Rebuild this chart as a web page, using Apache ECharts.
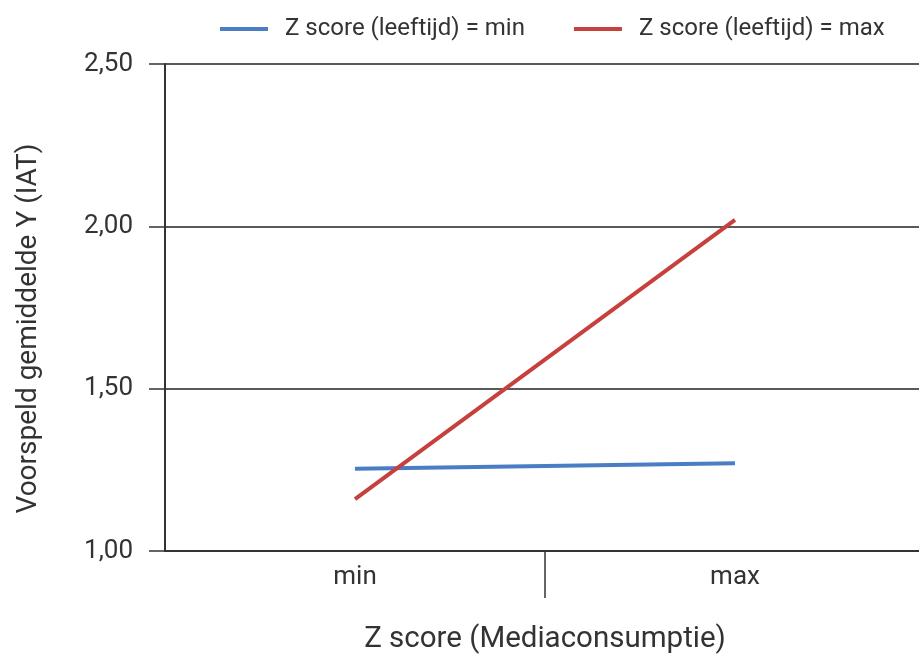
<!DOCTYPE html>
<html><head><meta charset="utf-8">
<script src="https://cdn.jsdelivr.net/npm/echarts@6/dist/echarts.min.js"></script>
<style>html,body{margin:0;padding:0;background:#fff}#c{width:919px;height:657px}</style>
</head><body><div id="c"></div>
<script>
const categories = ['min', 'max'];
const seriesNames = ['Z score (leeftijd) = min', 'Z score (leeftijd) = max'];
const seriesMin = [1.253, 1.27];
const seriesMax = [1.16, 2.02];
const yTicks = [1.0, 1.5, 2.0, 2.5];

const FONT = 'Roboto, sans-serif';
const chart = echarts.init(document.getElementById('c'));
chart.setOption({
  backgroundColor: '#fff',
  animation: false,
  textStyle: { fontFamily: FONT },
  legend: {
    top: 17, left: 220, padding: 0,
    icon: 'rect',
    itemWidth: 48, itemHeight: 4, itemGap: 49,
    textStyle: { fontFamily: FONT, fontSize: 24, color: '#333', padding: [0, 0, 0, 12] },
    data: seriesNames
  },
  grid: { left: 165, right: -6, top: 64, bottom: 106, outerBoundsMode: 'none', containLabel: false },
  xAxis: [{
    type: 'category', data: categories, boundaryGap: true,
    name: 'Z score (Mediaconsumptie)', nameLocation: 'middle', nameGap: 74,
    nameTextStyle: { fontFamily: FONT, fontSize: 29.5, color: '#333' },
    axisLine: { lineStyle: { color: '#333', width: 2 } },
    axisTick: { show: false },
    axisLabel: { fontFamily: FONT, fontSize: 26, color: '#333', margin: 13 }
  }, {
    type: 'value', min: 0, max: categories.length, interval: 1, position: 'bottom',
    axisLine: { show: false },
    axisLabel: { show: false },
    splitLine: { show: false },
    axisTick: { show: true, length: 47, customValues: [1], lineStyle: { color: '#333', width: 1.5 } }
  }],
  yAxis: {
    type: 'value', min: 1.0, max: 2.5, interval: 0.5,
    name: 'Voorspeld gemiddelde Y (IAT)', nameLocation: 'middle', nameGap: 122, nameRotate: 90,
    nameTextStyle: { fontFamily: FONT, fontSize: 28, color: '#333', padding: [0, 42, 0, 0] },
    axisLine: { show: true, lineStyle: { color: '#333', width: 2 } },
    axisTick: { show: true, length: 16, lineStyle: { color: '#333', width: 1.5 } },
    axisLabel: { fontFamily: FONT, fontSize: 26, color: '#333', margin: 32,
      formatter: function (v) { return yTicks.indexOf(v) >= 0 ? v.toFixed(2).replace('.', ',') : ''; } },
    splitLine: { show: true, lineStyle: { color: '#222', width: 1.5 } }
  },
  series: [
    { name: seriesNames[0], type: 'line', data: seriesMin, symbol: 'none', xAxisIndex: 0,
      lineStyle: { color: '#4a7ec4', width: 4 }, itemStyle: { color: '#4a7ec4' } },
    { name: seriesNames[1], type: 'line', data: seriesMax, symbol: 'none', xAxisIndex: 0,
      lineStyle: { color: '#c6403e', width: 4 }, itemStyle: { color: '#c6403e' } }
  ]
});
</script></body></html>
